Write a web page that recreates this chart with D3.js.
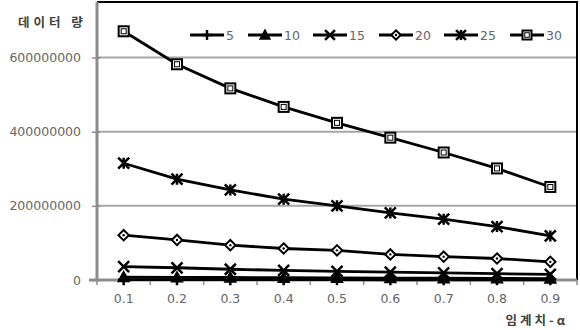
<!DOCTYPE html>
<html><head><meta charset="utf-8">
<script src="https://cdn.jsdelivr.net/npm/d3@7"></script>
<style>
html,body{margin:0;padding:0;background:#fff;}
svg{display:block;}
</style></head>
<body><svg id="c" width="580" height="330"></svg>
<script>
const categories = ["0.1","0.2","0.3","0.4","0.5","0.6","0.7","0.8","0.9"];
const seriesNames = ["5","10","15","20","25","30"];
const s5  = [1000000, 900000, 850000, 800000, 750000, 700000, 650000, 600000, 550000];
const s10 = [8000000, 7300000, 6700000, 6100000, 5600000, 5100000, 4700000, 4300000, 3900000];
const s15 = [36000000, 33000000, 29000000, 26000000, 23000000, 21000000, 19000000, 17000000, 15000000];
const s20 = [121000000, 108000000, 94000000, 85000000, 80000000, 69000000, 63000000, 58000000, 49000000];
const s25 = [315000000, 272000000, 243000000, 218000000, 200000000, 181000000, 164000000, 144000000, 119000000];
const s30 = [671000000, 582000000, 517000000, 467000000, 424000000, 384000000, 344000000, 301000000, 251000000];
const yTicks = [0, 200000000, 400000000, 600000000];
const yTitle = "데이터 량";
const xTitle = "임계치-α";

const values = [s5, s10, s15, s20, s25, s30];
const markers = ["plus","triangle","cross","diamond","star","square"];

const svg = d3.select("#c");
const L = 97, R = 577, T = 2, B = 280;
const x = d3.scaleBand().domain(categories).range([L, R]);
const y = d3.scaleLinear().domain([0, 750000000]).range([B, T]);

// gridlines
svg.append("g").selectAll("line").data(yTicks.filter(d => d > 0)).join("line")
  .attr("x1", L).attr("x2", R).attr("y1", d => y(d)).attr("y2", d => y(d))
  .attr("stroke", "#a6a6a6").attr("stroke-width", 2);

// plot border top/right (black)
svg.append("path").attr("d", `M${L},${T}H${R}V${B}`).attr("fill", "none")
  .attr("stroke", "#000").attr("stroke-width", 2);

// Y axis
const yAxis = d3.axisLeft(y).tickValues(yTicks).tickSize(5).tickSizeOuter(0).tickFormat(d3.format("d"));
const gy = svg.append("g").attr("transform", `translate(${L},0)`).call(yAxis);
gy.select(".domain").attr("stroke", "#8c8c8c").attr("stroke-width", 3).attr("d", `M0,${T}V${B}`);
gy.selectAll(".tick line").attr("stroke", "#8c8c8c").attr("stroke-width", 1.5).attr("x1", -5).attr("x2", 3);
gy.selectAll(".tick text").attr("x", -16).attr("fill", "#666")
  .style("font-family", "DejaVu Sans, sans-serif").style("font-size", "12.5px");

// X axis: ticks between categories
const xAxis = d3.axisBottom(x).tickSize(0).tickSizeOuter(0);
const gx = svg.append("g").attr("transform", `translate(0,${B})`).call(xAxis);
gx.select(".domain").attr("stroke", "#8c8c8c").attr("stroke-width", 3).attr("d", `M${L-8},0H${R}`);
gx.selectAll(".tick text").attr("y", 14).attr("fill", "#666")
  .style("font-family", "DejaVu Sans, sans-serif").style("font-size", "12.5px");
const bounds = categories.map(c => x(c)).concat([R]);
gx.append("g").selectAll("line").data(bounds).join("line")
  .attr("x1", d => d).attr("x2", d => d).attr("y1", 0).attr("y2", 5)
  .attr("stroke", "#8c8c8c").attr("stroke-width", 1.5);

// marker drawing
function drawMarker(g, type, cx, cy, s) {
  const sw = 2;
  if (type === "square") {
    g.append("rect").attr("x", cx - s/2).attr("y", cy - s/2).attr("width", s).attr("height", s)
      .attr("fill", "#fff").attr("stroke", "#000").attr("stroke-width", sw);
    g.append("rect").attr("x", cx - s/4).attr("y", cy - s/4).attr("width", s/2).attr("height", s/2)
      .attr("fill", "none").attr("stroke", "#000").attr("stroke-width", 1);
  } else if (type === "diamond") {
    const h = s * 0.52;
    g.append("path").attr("d", `M${cx},${cy-h}L${cx+h},${cy}L${cx},${cy+h}L${cx-h},${cy}Z`)
      .attr("fill", "#fff").attr("stroke", "#000").attr("stroke-width", sw);
    g.append("circle").attr("cx", cx).attr("cy", cy).attr("r", 1.2).attr("fill", "#000");
  } else if (type === "triangle") {
    const h = s * 0.55;
    g.append("path").attr("d", `M${cx},${cy-h}L${cx+h},${cy+h*0.8}L${cx-h},${cy+h*0.8}Z`)
      .attr("fill", "#000").attr("stroke", "#000").attr("stroke-width", 1.5);
  } else if (type === "cross") {
    const h = s * 0.55;
    g.append("path").attr("d", `M${cx-h},${cy-h}L${cx+h},${cy+h}M${cx-h},${cy+h}L${cx+h},${cy-h}`)
      .attr("stroke", "#000").attr("stroke-width", 2.5);
  } else if (type === "star") {
    const h = s * 0.55;
    g.append("path").attr("d", `M${cx-h},${cy-h}L${cx+h},${cy+h}M${cx-h},${cy+h}L${cx+h},${cy-h}M${cx},${cy-h}V${cy+h}`)
      .attr("stroke", "#000").attr("stroke-width", 2.5);
  } else if (type === "plus") {
    const h = s * 0.55;
    g.append("path").attr("d", `M${cx-h},${cy}H${cx+h}M${cx},${cy-h}V${cy+h}`)
      .attr("stroke", "#000").attr("stroke-width", 2.5);
  }
}

const line = d3.line().x((d, i) => x(categories[i]) + x.bandwidth()/2).y(d => y(d));
values.forEach((vals, si) => {
  const g = svg.append("g");
  g.append("path").datum(vals).attr("d", line).attr("fill", "none")
    .attr("stroke", "#000").attr("stroke-width", 2.8).attr("stroke-linejoin", "round");
  vals.forEach((v, i) => drawMarker(g, markers[si], x(categories[i]) + x.bandwidth()/2, y(v), 10));
});

// legend
const legX = [190, 248, 313, 379, 444, 510];
const legY = 35;
seriesNames.forEach((n, i) => {
  const g = svg.append("g");
  g.append("line").attr("x1", legX[i]).attr("x2", legX[i] + 34).attr("y1", legY).attr("y2", legY)
    .attr("stroke", "#000").attr("stroke-width", 2.8);
  drawMarker(g, markers[i], legX[i] + 17, legY, 9);
  g.append("text").attr("x", legX[i] + 36).attr("y", legY).attr("dy", "0.36em").text(n)
    .attr("fill", "#666").style("font-family", "DejaVu Sans, sans-serif").style("font-size", "12.5px");
});

// titles
svg.append("text").attr("x", 18).attr("y", 27).text(yTitle)
  .attr("fill", "#404040").style("font-family", "Noto Sans CJK KR, sans-serif")
  .style("font-size", "12.5px").style("font-weight", "bold").style("letter-spacing", "4px");
svg.append("text").attr("x", 568).attr("y", 325).attr("text-anchor", "end").text(xTitle)
  .attr("fill", "#404040").style("font-family", "Noto Sans CJK KR, sans-serif")
  .style("font-size", "12.5px").style("font-weight", "bold").style("letter-spacing", "3px");
</script>
</body></html>
